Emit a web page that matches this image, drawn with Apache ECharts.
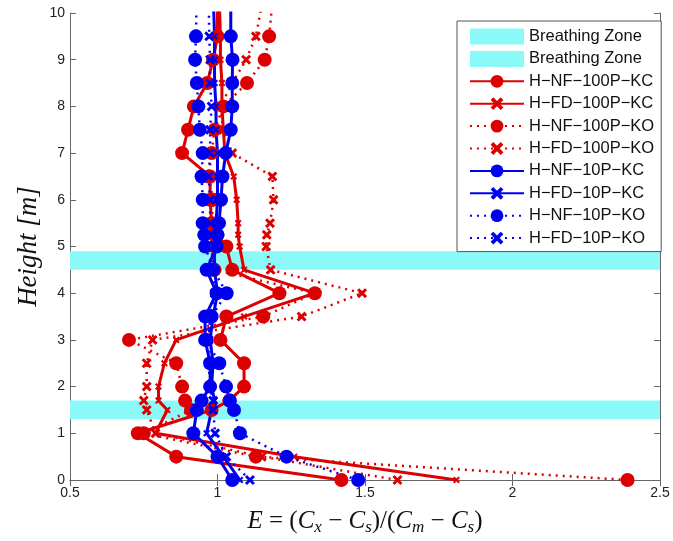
<!DOCTYPE html>
<html>
<head>
<meta charset="utf-8">
<script src="https://cdn.jsdelivr.net/npm/echarts@6/dist/echarts.min.js"></script>
<style>
  html, body { margin: 0; padding: 0; background: #fff; }
  #chart { width: 673px; height: 541px; }
</style>
</head>
<body>
<div id="chart"></div>
<script>
// measurement heights [m] (10.5 lies above the axis and is clipped)
const heights = [0, 0.5, 1, 1.5, 1.7, 2, 2.5, 3, 3.5, 4, 4.5, 5, 5.25, 5.5, 6, 6.5, 7, 7.5, 8, 8.5, 9, 9.5, 10.5]

// E values, one per height
const nf100kc = [1.42, 0.86, 0.73, 0.98, 1.04, 1.09, 1.09, 1.01, 1.03, 1.21, 1.05, 1.03, 1.0, 0.98, 0.975, 0.975, 0.88, 0.90, 0.92, 0.965, 0.985, 1.0, 1.0]
const fd100kc = [1.81, 1.26, 0.79, 0.83, 0.80, 0.80, 0.82, 0.86, 1.09, 1.33, 1.09, 1.075, 1.07, 1.07, 1.065, 1.055, 1.025, 1.02, 1.015, 1.015, 1.01, 1.01, 1.005]
const nf100ko = [2.39, 1.13, 0.75, 0.91, 0.89, 0.88, 0.86, 0.70, 1.155, 1.33, 0.99, 0.99, 0.99, 0.98, 0.985, 0.97, 0.98, 0.99, 1.02, 1.10, 1.16, 1.175, 1.19]
const fd100ko = [1.61, 1.15, 0.79, 0.76, 0.75, 0.76, 0.76, 0.78, 1.285, 1.49, 1.18, 1.165, 1.167, 1.178, 1.19, 1.186, 1.05, 1.02, 1.01, 1.05, 1.097, 1.13, 1.16]
const nf10kc = [1.05, 1.0, 0.918, 0.93, 0.946, 0.975, 0.975, 0.958, 0.958, 0.997, 0.963, 0.997, 1.0, 1.005, 1.012, 1.017, 1.028, 1.045, 1.05, 1.05, 1.051, 1.045, 1.045]
const fd10kc = [1.076, 1.02, 0.963, 0.98, 0.99, 0.98, 0.985, 0.975, 0.985, 1.0, 0.99, 0.99, 0.995, 0.995, 1.0, 1.0, 1.0, 0.995, 0.995, 0.99, 0.99, 0.99, 0.985]
const nf10ko = [1.477, 1.234, 1.076, 1.056, 1.042, 1.029, 1.006, 0.963, 0.98, 1.031, 0.986, 0.958, 0.955, 0.95, 0.95, 0.946, 0.95, 0.94, 0.935, 0.93, 0.924, 0.927, 0.93]
const fd10ko = [1.11, 1.03, 0.992, 0.985, 0.985, 0.975, 0.97, 0.97, 0.975, 0.99, 0.985, 0.98, 0.98, 0.975, 0.975, 0.97, 0.975, 0.975, 0.98, 0.975, 0.975, 0.972, 0.97]

// breathing zones (height ranges)
const zoneLow = [1.3, 4.5]
const zoneHigh = [1.7, 4.9]

const RED = '#dd0000'
const BLUE = '#0000f0'
const CYAN = '#8cf9f9'
// bold x marker
const CROSS = 'path://M0,2.5L2.5,0L6,3.5L9.5,0L12,2.5L8.5,6L12,9.5L9.5,12L6,8.5L2.5,12L0,9.5L3.5,6Z'

const makeSeries = (name, vals, color, dotted, symbol, size) => ({
  name: name,
  type: 'line',
  data: vals.map((v, i) => [v, heights[i]]),
  symbol: symbol,
  symbolSize: size,
  showAllSymbol: true,
  clip: true,
  z: 3,
  lineStyle: { color: color, width: dotted ? 2.5 : 3, type: dotted ? [2, 5] : 'solid' },
  itemStyle: { color: color },
  animation: false
})

const zoneSeries = (name, i) => ({
  name: name,
  type: 'line',
  data: [],
  z: 1,
  itemStyle: { color: CYAN },
  lineStyle: { color: CYAN },
  markArea: {
    silent: true,
    itemStyle: { color: CYAN, opacity: 1 },
    data: [[{ yAxis: zoneLow[i] }, { yAxis: zoneHigh[i] }]]
  },
  animation: false
})

const names = ['H−NF−100P−KC', 'H−FD−100P−KC', 'H−NF−100P−KO', 'H−FD−100P−KO',
               'H−NF−10P−KC', 'H−FD−10P−KC', 'H−NF−10P−KO', 'H−FD−10P−KO']

const tickFont = { fontFamily: 'Liberation Sans', fontSize: 14, color: '#222' }
const axisLine = { show: true, lineStyle: { color: '#666', width: 1 } }
const axisTick = { show: true, inside: true, length: 6, lineStyle: { color: '#666' } }

const chart = echarts.init(document.getElementById('chart'))

chart.setOption({
  backgroundColor: '#fff',
  animation: false,
  grid: { left: 70, right: 13, top: 13, bottom: 58 },
  legend: {
    orient: 'vertical',
    left: 457,
    top: 21,
    padding: [7, 7, 5, 12],
    itemWidth: 54,
    itemHeight: 16,
    itemGap: 5.4,
    backgroundColor: '#fff',
    borderColor: '#555',
    borderWidth: 1,
    borderRadius: 0,
    textStyle: { fontFamily: 'Liberation Sans', fontSize: 16.5, color: '#111' },
    formatter: n => n.indexOf('bz') === 0 ? 'Breathing Zone' : n,
    data: [
      { name: 'bz1', icon: 'rect', itemStyle: { color: CYAN } },
      { name: 'bz2', icon: 'rect', itemStyle: { color: CYAN } }
    ].concat(names)
  },
  xAxis: [{
    type: 'value',
    min: 0.5, max: 2.5, interval: 0.5,
    axisLine: axisLine,
    axisTick: axisTick,
    splitLine: { show: false },
    axisLabel: Object.assign({ margin: 6 }, tickFont),
    name: '{i|E} = ({i|C}{s|x} − {i|C}{s|s})/({i|C}{s|m} − {i|C}{s|s})',
    nameLocation: 'middle',
    nameGap: 27,
    nameMoveOverlap: false,
    nameTextStyle: {
      fontFamily: 'Liberation Serif', fontSize: 25, color: '#111',
      rich: {
        i: { fontFamily: 'Liberation Serif', fontStyle: 'italic', fontSize: 25 },
        s: { fontFamily: 'Liberation Serif', fontStyle: 'italic', fontSize: 17, padding: [12, 0, 0, 0] }
      }
    }
  }, {
    type: 'value',
    position: 'top',
    min: 0.5, max: 2.5, interval: 0.5,
    axisLine: axisLine,
    axisTick: axisTick,
    axisLabel: { show: false },
    splitLine: { show: false }
  }],
  yAxis: [{
    type: 'value',
    min: 0, max: 10, interval: 1,
    axisLine: axisLine,
    axisTick: axisTick,
    splitLine: { show: false },
    axisLabel: Object.assign({ margin: 5 }, tickFont),
    name: 'Height [m]',
    nameLocation: 'middle',
    nameGap: 28,
    nameMoveOverlap: false,
    nameTextStyle: { fontFamily: 'Liberation Serif', fontStyle: 'italic', fontSize: 27, color: '#111' }
  }, {
    type: 'value',
    position: 'right',
    min: 0, max: 10, interval: 1,
    axisLine: axisLine,
    axisTick: axisTick,
    axisLabel: { show: false },
    splitLine: { show: false }
  }],
  series: [
    zoneSeries('bz1', 0),
    zoneSeries('bz2', 1),
    makeSeries(names[0], nf100kc, RED, false, 'circle', 14),
    makeSeries(names[1], fd100kc, RED, false, CROSS, 7),
    makeSeries(names[2], nf100ko, RED, true, 'circle', 14),
    makeSeries(names[3], fd100ko, RED, true, CROSS, 10),
    makeSeries(names[4], nf10kc, BLUE, false, 'circle', 14),
    makeSeries(names[5], fd10kc, BLUE, false, CROSS, 7),
    makeSeries(names[6], nf10ko, BLUE, true, 'circle', 14),
    makeSeries(names[7], fd10ko, BLUE, true, CROSS, 10)
  ]
})
</script>
</body>
</html>
